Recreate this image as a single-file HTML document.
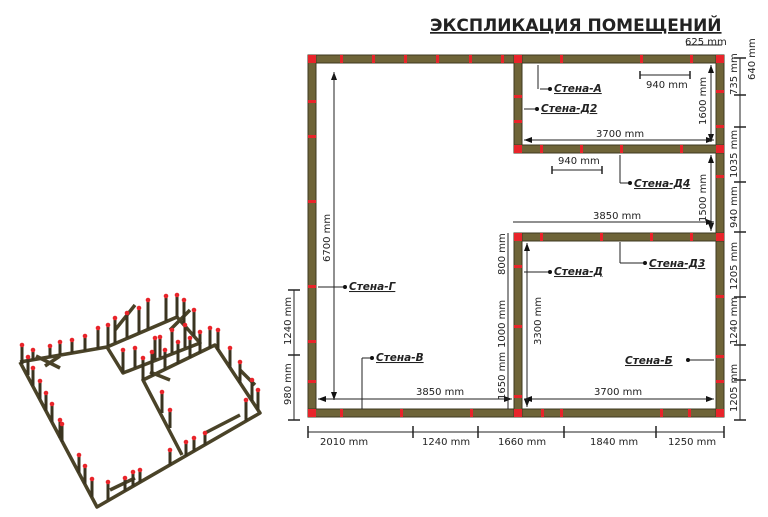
<!DOCTYPE html>
<html><head><meta charset="utf-8"><style>
body{margin:0;background:#fff;width:768px;height:517px;overflow:hidden}
svg{display:block}
text{font-family:"DejaVu Sans","Liberation Sans",sans-serif;font-size:10px;fill:#222}
.lb{font-weight:bold;font-style:italic;text-decoration:underline;font-size:10.5px}
</style></head><body>
<svg width="768" height="517" viewBox="0 0 768 517">
<defs><marker id="a" markerWidth="8" markerHeight="6" refX="8" refY="3" orient="auto"><path d="M0,0L8,3L0,6z" fill="#111"/></marker></defs>
<text x="430" y="31" style="font-size:17px;font-weight:bold;text-decoration:underline" fill="#111">ЭКСПЛИКАЦИЯ ПОМЕЩЕНИЙ</text>
<g fill="#6e6438" stroke="#3e3820" stroke-width="1">
<rect x="308" y="55" width="416" height="8"/>
<rect x="308" y="55" width="8" height="362"/>
<rect x="308" y="409" width="416" height="8"/>
<rect x="716" y="55" width="8" height="362"/>
<rect x="514" y="55" width="8" height="98"/>
<rect x="514" y="145" width="210" height="8"/>
<rect x="514" y="233" width="210" height="8"/>
<rect x="514" y="233" width="8" height="184"/>
</g>
<g fill="#e8242a">
<rect x="308" y="55" width="8" height="8"/><rect x="716" y="55" width="8" height="8"/><rect x="308" y="409" width="8" height="8"/><rect x="716" y="409" width="8" height="8"/>
<rect x="514" y="55" width="8" height="8"/><rect x="514" y="145" width="8" height="8"/><rect x="514" y="233" width="8" height="8"/><rect x="514" y="409" width="8" height="8"/><rect x="716" y="145" width="8" height="8"/><rect x="716" y="233" width="8" height="8"/>
<rect x="340" y="55" width="3" height="8"/><rect x="372" y="55" width="3" height="8"/><rect x="404" y="55" width="3" height="8"/><rect x="436" y="55" width="3" height="8"/><rect x="469" y="55" width="3" height="8"/><rect x="501" y="55" width="3" height="8"/>
<rect x="560" y="55" width="3" height="8"/><rect x="640" y="55" width="3" height="8"/><rect x="690" y="55" width="3" height="8"/>
<rect x="308" y="100" width="8" height="3"/><rect x="308" y="135" width="8" height="3"/><rect x="308" y="200" width="8" height="3"/><rect x="308" y="285" width="8" height="3"/><rect x="308" y="340" width="8" height="3"/><rect x="308" y="380" width="8" height="3"/>
<rect x="514" y="95" width="8" height="3"/><rect x="514" y="120" width="8" height="3"/><rect x="514" y="265" width="8" height="3"/><rect x="514" y="325" width="8" height="3"/><rect x="514" y="395" width="8" height="3"/>
<rect x="716" y="90" width="8" height="3"/><rect x="716" y="125" width="8" height="3"/><rect x="716" y="175" width="8" height="3"/><rect x="716" y="295" width="8" height="3"/><rect x="716" y="355" width="8" height="3"/><rect x="716" y="380" width="8" height="3"/>
<rect x="540" y="145" width="3" height="8"/><rect x="580" y="145" width="3" height="8"/><rect x="620" y="145" width="3" height="8"/><rect x="680" y="145" width="3" height="8"/>
<rect x="540" y="233" width="3" height="8"/><rect x="600" y="233" width="3" height="8"/><rect x="650" y="233" width="3" height="8"/><rect x="690" y="233" width="3" height="8"/>
<rect x="340" y="409" width="3" height="8"/><rect x="400" y="409" width="3" height="8"/><rect x="470" y="409" width="3" height="8"/><rect x="541" y="409" width="3" height="8"/><rect x="560" y="409" width="3" height="8"/><rect x="660" y="409" width="3" height="8"/><rect x="688" y="409" width="3" height="8"/>
</g>
<g stroke="#222" stroke-width="1" fill="none">
<line x1="334" y1="400" x2="334" y2="72" marker-end="url(#a)"/><line x1="334" y1="72" x2="334" y2="400" marker-end="url(#a)"/>
<line x1="318" y1="399" x2="512" y2="399" marker-end="url(#a)"/><line x1="512" y1="399" x2="318" y2="399" marker-end="url(#a)"/>
<line x1="524" y1="399" x2="714" y2="399" marker-end="url(#a)"/><line x1="714" y1="399" x2="524" y2="399" marker-end="url(#a)"/>
<line x1="513" y1="222" x2="714" y2="222" marker-end="url(#a)"/>
<line x1="524" y1="140" x2="714" y2="140" marker-end="url(#a)"/><line x1="714" y1="140" x2="524" y2="140" marker-end="url(#a)"/>
<line x1="711" y1="65" x2="711" y2="142" marker-end="url(#a)"/><line x1="711" y1="142" x2="711" y2="65" marker-end="url(#a)"/>
<line x1="711" y1="155" x2="711" y2="231" marker-end="url(#a)"/><line x1="711" y1="231" x2="711" y2="155" marker-end="url(#a)"/>
<line x1="527" y1="243" x2="527" y2="407" marker-end="url(#a)"/><line x1="527" y1="407" x2="527" y2="243" marker-end="url(#a)"/>
<line x1="508" y1="233" x2="508" y2="409"/>
<line x1="640" y1="75" x2="690" y2="75"/><line x1="552" y1="170" x2="602" y2="170"/>
<line x1="294" y1="290" x2="294" y2="420"/>
<line x1="740" y1="58" x2="740" y2="420"/>
<line x1="308" y1="432" x2="724" y2="432"/>
<line x1="686" y1="45" x2="722" y2="45"/>
<line x1="540" y1="89" x2="550" y2="89"/><line x1="524" y1="109" x2="537" y2="109"/>
<line x1="620" y1="155" x2="620" y2="183"/><line x1="620" y1="183" x2="630" y2="183"/>
<line x1="620" y1="242" x2="620" y2="263"/><line x1="620" y1="263" x2="645" y2="263"/>
<line x1="524" y1="272" x2="550" y2="272"/><line x1="318" y1="287" x2="345" y2="287"/>
<line x1="362" y1="358" x2="362" y2="409"/><line x1="362" y1="358" x2="372" y2="358"/>
<line x1="688" y1="360" x2="714" y2="360"/>
<line x1="538" y1="65" x2="538" y2="89"/>
</g>
<g stroke="#222" stroke-width="1.5">
<line x1="308" y1="426" x2="308" y2="438"/><line x1="413" y1="426" x2="413" y2="438"/><line x1="478" y1="426" x2="478" y2="438"/><line x1="564" y1="426" x2="564" y2="438"/><line x1="656" y1="426" x2="656" y2="438"/><line x1="724" y1="426" x2="724" y2="438"/>
<line x1="734" y1="58" x2="746" y2="58"/><line x1="734" y1="95" x2="746" y2="95"/><line x1="734" y1="127" x2="746" y2="127"/><line x1="734" y1="182" x2="746" y2="182"/><line x1="734" y1="232" x2="746" y2="232"/><line x1="734" y1="297" x2="746" y2="297"/><line x1="734" y1="345" x2="746" y2="345"/><line x1="734" y1="380" x2="746" y2="380"/><line x1="734" y1="420" x2="746" y2="420"/>
<line x1="288" y1="290" x2="300" y2="290"/><line x1="288" y1="355" x2="300" y2="355"/><line x1="288" y1="420" x2="300" y2="420"/>
<line x1="640" y1="71" x2="640" y2="79"/><line x1="690" y1="71" x2="690" y2="79"/><line x1="552" y1="166" x2="552" y2="174"/><line x1="602" y1="166" x2="602" y2="174"/>
</g>
<g fill="#111"><circle cx="550" cy="89" r="2"/><circle cx="537" cy="109" r="2"/><circle cx="630" cy="183" r="2"/><circle cx="645" cy="263" r="2"/><circle cx="550" cy="272" r="2"/><circle cx="345" cy="287" r="2"/><circle cx="372" cy="358" r="2"/><circle cx="688" cy="360" r="2"/></g>
<text x="416" y="395">3850 mm</text><text x="594" y="395">3700 mm</text><text x="593" y="219">3850 mm</text><text x="596" y="137">3700 mm</text>
<text x="646" y="88">940 mm</text><text x="558" y="164">940 mm</text><text x="685" y="45">625 mm</text>
<text x="320" y="445">2010 mm</text><text x="422" y="445">1240 mm</text><text x="498" y="445">1660 mm</text><text x="590" y="445">1840 mm</text><text x="668" y="445">1250 mm</text>
<text class="lb" x="554" y="92">Стена-А</text><text class="lb" x="541" y="112">Стена-Д2</text><text class="lb" x="634" y="187">Стена-Д4</text><text class="lb" x="649" y="267">Стена-Д3</text><text class="lb" x="554" y="275">Стена-Д</text><text class="lb" x="349" y="290">Стена-Г</text><text class="lb" x="376" y="361">Стена-В</text><text class="lb" x="625" y="364">Стена-Б</text>
<g>
<text transform="translate(330,262) rotate(-90)">6700 mm</text>
<text transform="translate(706,125) rotate(-90)">1600 mm</text>
<text transform="translate(706,222) rotate(-90)">1500 mm</text>
<text transform="translate(505,348) rotate(-90)">1000 mm</text>
<text transform="translate(505,275) rotate(-90)">800 mm</text>
<text transform="translate(505,400) rotate(-90)">1650 mm</text>
<text transform="translate(541,345) rotate(-90)">3300 mm</text>
<text transform="translate(291,345) rotate(-90)">1240 mm</text>
<text transform="translate(291,405) rotate(-90)">980 mm</text>
<text transform="translate(737,95) rotate(-90)">735 mm</text>
<text transform="translate(755,80) rotate(-90)">640 mm</text>
<text transform="translate(737,178) rotate(-90)">1035 mm</text>
<text transform="translate(737,228) rotate(-90)">940 mm</text>
<text transform="translate(737,290) rotate(-90)">1205 mm</text>
<text transform="translate(737,345) rotate(-90)">1240 mm</text>
<text transform="translate(737,412) rotate(-90)">1205 mm</text>
</g>
<!-- 3D view -->
<g stroke="#4a4328" stroke-width="3.5" fill="none" stroke-linejoin="round">
<polyline points="20,362 97,507 260,413 215,345 143,380 182,455"/>
<polyline points="20,362 107,347 177,317 200,343 123,373 107,347"/>
<line x1="36" y1="356" x2="60" y2="368"/><line x1="60" y1="356" x2="45" y2="366"/>
<line x1="115" y1="330" x2="135" y2="305"/><line x1="170" y1="330" x2="190" y2="310"/>
<line x1="150" y1="372" x2="170" y2="380"/><line x1="110" y1="490" x2="135" y2="478"/>
<line x1="205" y1="433" x2="240" y2="415"/><line x1="240" y1="370" x2="255" y2="385"/>
</g>
<g stroke="#3a3420" stroke-width="3">
<line x1="22" y1="364" x2="22" y2="345"/><line x1="28" y1="375" x2="28" y2="357"/><line x1="33" y1="386" x2="33" y2="368"/><line x1="40" y1="399" x2="40" y2="381"/><line x1="46" y1="411" x2="46" y2="393"/><line x1="52" y1="422" x2="52" y2="404"/><line x1="60" y1="438" x2="60" y2="420"/><line x1="62" y1="442" x2="62" y2="424"/><line x1="79" y1="473" x2="79" y2="455"/><line x1="85" y1="484" x2="85" y2="466"/><line x1="92" y1="497" x2="92" y2="479"/>
<line x1="33" y1="360" x2="33" y2="350"/><line x1="50" y1="357" x2="50" y2="346"/><line x1="60" y1="355" x2="60" y2="342"/><line x1="72" y1="353" x2="72" y2="340"/><line x1="85" y1="351" x2="85" y2="336"/><line x1="98" y1="349" x2="98" y2="328"/>
<line x1="108" y1="346" x2="108" y2="325"/><line x1="115" y1="343" x2="115" y2="318"/><line x1="127" y1="338" x2="127" y2="313"/><line x1="139" y1="333" x2="139" y2="308"/><line x1="148" y1="329" x2="148" y2="300"/><line x1="166" y1="321" x2="166" y2="296"/><line x1="177" y1="317" x2="177" y2="295"/><line x1="184" y1="324" x2="184" y2="300"/><line x1="194" y1="336" x2="194" y2="310"/>
<line x1="123" y1="373" x2="123" y2="350"/><line x1="135" y1="368" x2="135" y2="348"/><line x1="155" y1="360" x2="155" y2="338"/><line x1="160" y1="357" x2="160" y2="337"/><line x1="172" y1="353" x2="172" y2="330"/><line x1="185" y1="348" x2="185" y2="325"/>
<line x1="143" y1="380" x2="143" y2="358"/><line x1="152" y1="376" x2="152" y2="352"/><line x1="165" y1="370" x2="165" y2="350"/><line x1="178" y1="364" x2="178" y2="342"/><line x1="190" y1="358" x2="190" y2="338"/><line x1="200" y1="353" x2="200" y2="332"/><line x1="210" y1="348" x2="210" y2="328"/><line x1="218" y1="350" x2="218" y2="330"/>
<line x1="230" y1="368" x2="230" y2="348"/><line x1="240" y1="383" x2="240" y2="362"/><line x1="252" y1="401" x2="252" y2="380"/><line x1="258" y1="410" x2="258" y2="390"/>
<line x1="162" y1="413" x2="162" y2="392"/><line x1="170" y1="428" x2="170" y2="410"/>
<line x1="108" y1="500" x2="108" y2="482"/><line x1="125" y1="491" x2="125" y2="478"/><line x1="133" y1="486" x2="133" y2="472"/><line x1="140" y1="482" x2="140" y2="470"/><line x1="170" y1="465" x2="170" y2="450"/><line x1="186" y1="456" x2="186" y2="442"/><line x1="194" y1="451" x2="194" y2="438"/><line x1="205" y1="445" x2="205" y2="433"/><line x1="246" y1="421" x2="246" y2="400"/>
</g>
<g fill="#e8242a">
<circle cx="22" cy="345" r="2.3"/><circle cx="28" cy="357" r="2.3"/><circle cx="33" cy="368" r="2.3"/><circle cx="40" cy="381" r="2.3"/><circle cx="46" cy="393" r="2.3"/><circle cx="52" cy="404" r="2.3"/><circle cx="60" cy="420" r="2.3"/><circle cx="62" cy="424" r="2.3"/><circle cx="79" cy="455" r="2.3"/><circle cx="85" cy="466" r="2.3"/><circle cx="92" cy="479" r="2.3"/>
<circle cx="33" cy="350" r="2.3"/><circle cx="50" cy="346" r="2.3"/><circle cx="60" cy="342" r="2.3"/><circle cx="72" cy="340" r="2.3"/><circle cx="85" cy="336" r="2.3"/><circle cx="98" cy="328" r="2.3"/>
<circle cx="108" cy="325" r="2.3"/><circle cx="115" cy="318" r="2.3"/><circle cx="127" cy="313" r="2.3"/><circle cx="139" cy="308" r="2.3"/><circle cx="148" cy="300" r="2.3"/><circle cx="166" cy="296" r="2.3"/><circle cx="177" cy="295" r="2.3"/><circle cx="184" cy="300" r="2.3"/><circle cx="194" cy="310" r="2.3"/>
<circle cx="123" cy="350" r="2.3"/><circle cx="135" cy="348" r="2.3"/><circle cx="155" cy="338" r="2.3"/><circle cx="160" cy="337" r="2.3"/><circle cx="172" cy="330" r="2.3"/><circle cx="185" cy="325" r="2.3"/>
<circle cx="143" cy="358" r="2.3"/><circle cx="152" cy="352" r="2.3"/><circle cx="165" cy="350" r="2.3"/><circle cx="178" cy="342" r="2.3"/><circle cx="190" cy="338" r="2.3"/><circle cx="200" cy="332" r="2.3"/><circle cx="210" cy="328" r="2.3"/><circle cx="218" cy="330" r="2.3"/>
<circle cx="230" cy="348" r="2.3"/><circle cx="240" cy="362" r="2.3"/><circle cx="252" cy="380" r="2.3"/><circle cx="258" cy="390" r="2.3"/><circle cx="162" cy="392" r="2.3"/><circle cx="170" cy="410" r="2.3"/>
<circle cx="108" cy="482" r="2.3"/><circle cx="125" cy="478" r="2.3"/><circle cx="133" cy="472" r="2.3"/><circle cx="140" cy="470" r="2.3"/><circle cx="170" cy="450" r="2.3"/><circle cx="186" cy="442" r="2.3"/><circle cx="194" cy="438" r="2.3"/><circle cx="205" cy="433" r="2.3"/><circle cx="246" cy="400" r="2.3"/>
</g>
</svg>
</body></html>
